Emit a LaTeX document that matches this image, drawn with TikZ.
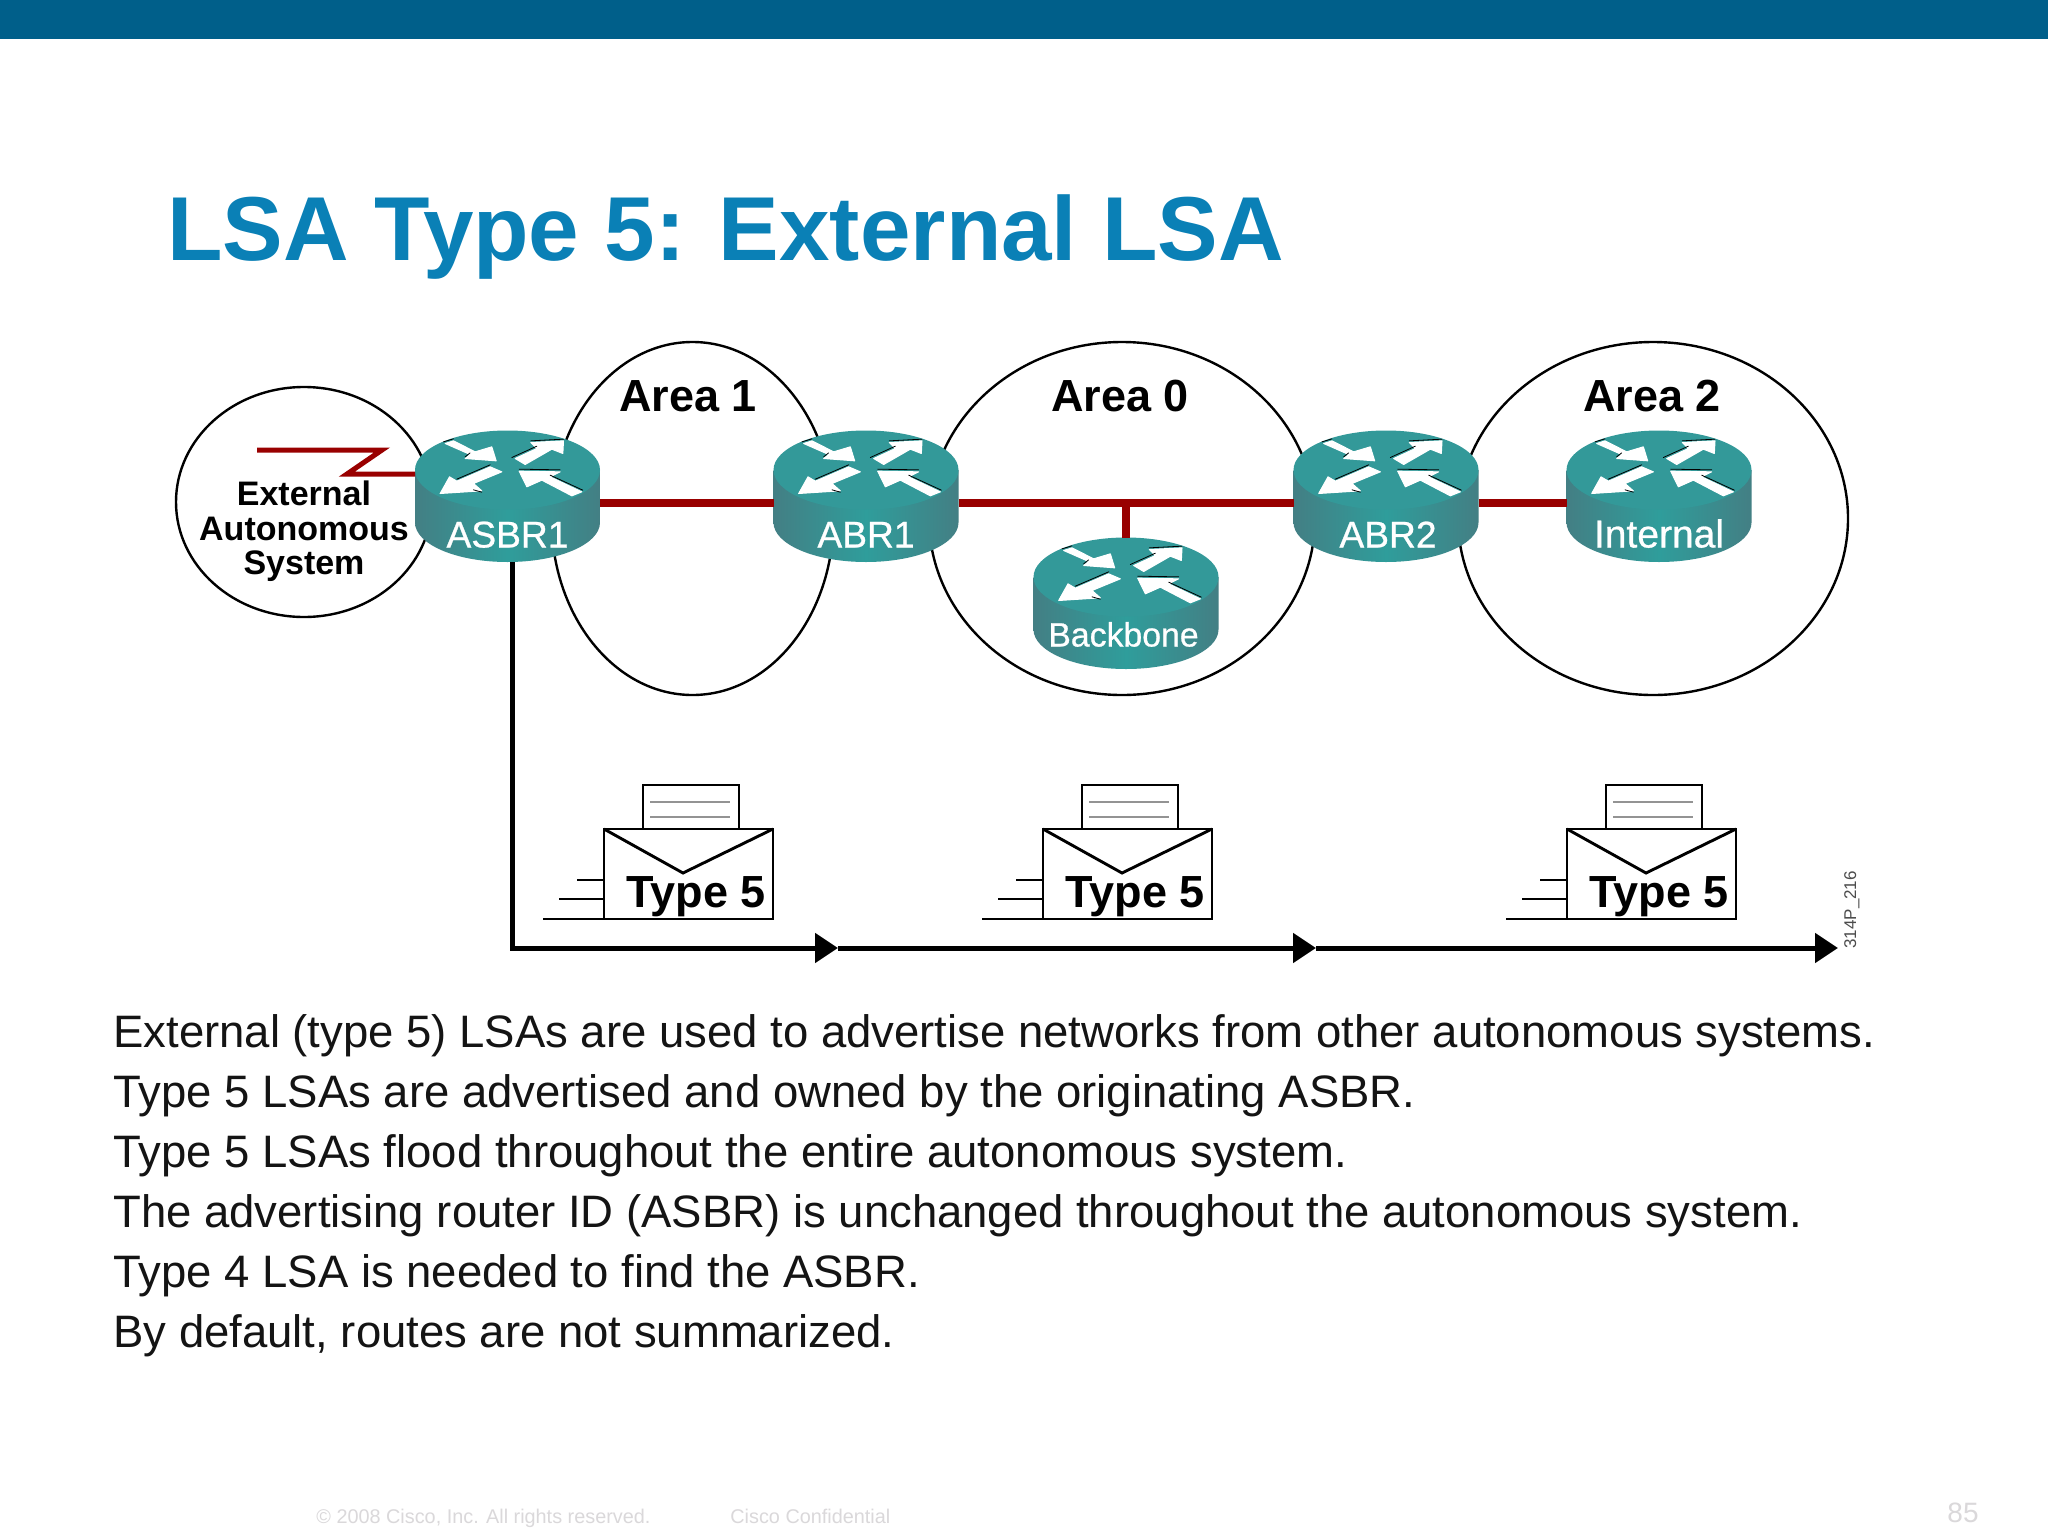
\documentclass[tikz,border=0pt]{standalone}
\usepackage{fontspec}
\setmainfont{Liberation Sans}
\newfontfamily\semibold{Liberation Sans}[FakeBold=0.7]
\usetikzlibrary{shapes.geometric,arrows.meta,calc}
\definecolor{bandblue}{HTML}{005F8A}
\definecolor{titleblue}{HTML}{0A80B6}
\definecolor{linkred}{HTML}{990000}
\definecolor{rtop}{HTML}{339999}
\definecolor{redge}{HTML}{437F84}
\definecolor{rmid}{HTML}{2F9D9B}
\definecolor{foot}{HTML}{DAD8DA}
\newcommand{\fs}[1]{\fontsize{#1}{#1}\selectfont}
\tikzset{
  area/.style={shape=ellipse,draw=black,line width=1.2pt,inner sep=0pt,outer sep=0pt},
  arealabel/.style={anchor=base,inner sep=0pt,font=\bfseries\fs{22.5}},
  routerbox/.style={shape=rectangle,minimum width=92.5pt,minimum height=65.5pt,inner sep=0pt,outer sep=0pt},
  routerlabel/.style={anchor=base,inner sep=0pt,text=white},
  rarrow/.style={fill=white,draw=white,line width=.5pt,line join=round},
  rshadow/.style={draw=black,line width=.4pt,line cap=round},
  redlink/.style={draw=linkred,line width=4pt},
  lightning/.style={draw=linkred,line width=2.5pt,miter limit=20},
  flood/.style={draw=black,line width=2.5pt,-{Triangle[length=11.5pt,width=14.5pt]}},
  envbody/.style={shape=rectangle,draw=black,line width=1.45pt,minimum width=84.5pt,minimum height=45pt,inner sep=0pt,outer sep=0pt},
  envpaper/.style={shape=rectangle,draw=black,line width=1.35pt,minimum width=48pt,minimum height=22pt,inner sep=0pt,outer sep=0pt},
  envline/.style={draw=black,line width=1.45pt},
  paperline/.style={draw=gray!85,line width=.6pt},
  bodytext/.style={anchor=base west,inner sep=0pt,font=\fs{22.74},text=black!92},
  footer/.style={anchor=base west,inner sep=0pt,text=foot,font=\fs{9.92}}
}
% name, x, y, label, label baseline offset, label size, label x offset
\newcommand{\router}[7]{%
  \node[routerbox] (#1) at (#2,#3) {};
  \begin{scope}[shift={(#2,#3)}]
    \shade[left color=redge,right color=redge,middle color=rmid]
      (-92.5,-26.5) -- (-92.5,26) arc[start angle=180,end angle=0,x radius=92.5,y radius=39.5] -- (92.5,-26.5) -- cycle;
    \fill[rtop] (0,-26.5) ellipse[x radius=92.5,y radius=39.5];
    \begin{scope}[x=.16667pt,y=-.16667pt,shift={(-292,-214)}]
      \filldraw[rarrow] (105,55) -- (130,47) -- (195,80) -- (245,65) -- (258,107) -- (165,100) -- (180,88) -- cycle;
      \filldraw[rarrow] (315,100) -- (380,70) -- (362,52) -- (460,47) -- (458,85) -- (425,72) -- (345,118) -- cycle;
      \filldraw[rarrow] (275,140) -- (190,175) -- (215,197) -- (90,205) -- (118,155) -- (140,168) -- (240,125) -- cycle;
      \filldraw[rarrow] (327,138) -- (450,140) -- (420,155) -- (515,200) -- (485,212) -- (395,165) -- (350,185) -- cycle;
      \draw[rshadow] (100,50) -- (130,41);
      \draw[rshadow] (165,95) -- (180,83);
      \draw[rshadow] (305,97) -- (380,63);
      \draw[rshadow] (362,47) -- (460,42);
      \draw[rshadow] (140,162) -- (240,119);
      \draw[rshadow] (327,132) -- (450,134);
      \draw[rshadow] (420,150) -- (518,195);
      \draw[rshadow] (190,194) -- (215,201);
    \end{scope}
  \end{scope}
  \node[routerlabel,font=\semibold\fs{#6}] (#1-label) at (#2+#7,#3+#5) {#4};
}
\newcommand{\envelope}[2]{%
  \node[envbody] (#1) at (#2+84.5,874) {};
  \node[envpaper] (#1-paper) at (#2+87,807) {};
  \draw[paperline] (#2+46,802) -- (#2+126,802);
  \draw[paperline] (#2+46,817) -- (#2+126,817);
  \coordinate (#1-a) at (#2-27,880);
  \coordinate (#1-b) at (#2-45,899);
  \coordinate (#1-c) at (#2-61,919);
  \coordinate (#1-v) at (#2+79,873);
  \draw[envline,line width=1.1pt] (#1-a) -- (#1-a -| #1.west);
  \draw[envline,line width=1.2pt] (#1-b) -- (#1-b -| #1.west);
  \draw[envline,line width=1.3pt] (#1-c) -- (#1-c -| #1.west);
  \draw[envline] (#1.north west) -- (#1-v) -- (#1.north east);
  \node[anchor=base west,inner sep=0pt,font=\bfseries\fs{22.5}] (#1-label) at (#2+22,907) {Type 5};
}
\begin{document}
\begin{tikzpicture}[x=.5pt,y=-.5pt]
\useasboundingbox (0,0) rectangle (2048,1536);
\fill[white] (0,0) rectangle (2048,1536);
\fill[bandblue] (0,0) rectangle (2048,39.5);
\node[anchor=base west,inner sep=0pt,text=titleblue,font=\bfseries\fs{45.4}] (title) at (167,260) {LSA Type 5: External LSA};
% areas
\node[area,minimum width=128pt,minimum height=115pt] (ext) at (304,502) {};
\node[area,minimum width=141pt,minimum height=176.5pt] (area1) at (692.5,518.5) {};
\node[area,minimum width=193pt,minimum height=176.5pt] (area0) at (1122,518.5) {};
\node[area,minimum width=195pt,minimum height=176.5pt] (area2) at (1653,518.5) {};
\node[arealabel] (area1-label) at (688,411.5) {Area 1};
\node[arealabel] (area0-label) at (1120,411.5) {Area 0};
\node[arealabel] (area2-label) at (1652,411.5) {Area 2};
\node[align=center,inner sep=0pt,font=\bfseries\fs{17}] (ext-label) at (304,531.5) {External\\[.2pt]Autonomous\\[.2pt]System};
% routers
\router{asbr}{507.5}{496.5}{ASBR1}{51}{18.6}{0}
\router{abr1}{866}{496.5}{ABR1}{51}{18.6}{0}
\router{abr2}{1386}{496.5}{ABR2}{51}{18.6}{2}
\router{internal}{1659}{496.5}{Internal}{51}{19.5}{0}
\router{backbone}{1126}{603.5}{Backbone}{43}{16.9}{-2.5}
% links
\coordinate (bus) at (0,503);
\draw[redlink] (asbr.east |- bus) -- (abr1.west |- bus);
\draw[redlink] (abr1.east |- bus) -- (abr2.west |- bus);
\draw[redlink] (abr2.east |- bus) -- (internal.west |- bus);
\draw[redlink] (backbone.north) -- (backbone.north |- bus);
\coordinate (z0) at (257,450);
\coordinate (z1) at (382,450);
\coordinate (z2) at (347,474);
\draw[lightning] (z0) -- (z1) -- (z2) -- (z2 -| asbr.west);
% flood
\coordinate (f0) at (512,562);
\coordinate (f1) at (838,948);
\coordinate (f2) at (1316,948);
\coordinate (f3) at (1838,948);
\draw[flood] (f0) |- (f1);
\draw[flood] (f1) -- (f2);
\draw[flood] (f2) -- (f3);
% envelopes
\envelope{env1}{604}
\envelope{env2}{1043}
\envelope{env3}{1567}
\node[rotate=90,anchor=base west,inner sep=0pt,text=black!70,font=\fs{8.5}] (code) at (1856,949) {314P\_216};
% body
\node[bodytext] (l1) at (113,1047.5) {External (type 5) LSAs are used to advertise networks from other autonomous systems.};
\node[bodytext] (l2) at (113,1107.5) {Type 5 LSAs are advertised and owned by the originating ASBR.};
\node[bodytext] (l3) at (113,1167.5) {Type 5 LSAs flood throughout the entire autonomous system.};
\node[bodytext] (l4) at (113,1227.5) {The advertising router ID (ASBR) is unchanged throughout the autonomous system.};
\node[bodytext] (l5) at (113,1287.5) {Type 4 LSA is needed to find the ASBR.};
\node[bodytext] (l6) at (113,1347.5) {By default, routes are not summarized.};
% footer
\node[footer] (copy) at (316,1523) {© 2008 Cisco, Inc. All rights reserved.};
\node[footer] (conf) at (730,1523) {Cisco Confidential};
\node[footer,font=\fs{14}] (page) at (1947,1522) {85};
\end{tikzpicture}
\end{document}
